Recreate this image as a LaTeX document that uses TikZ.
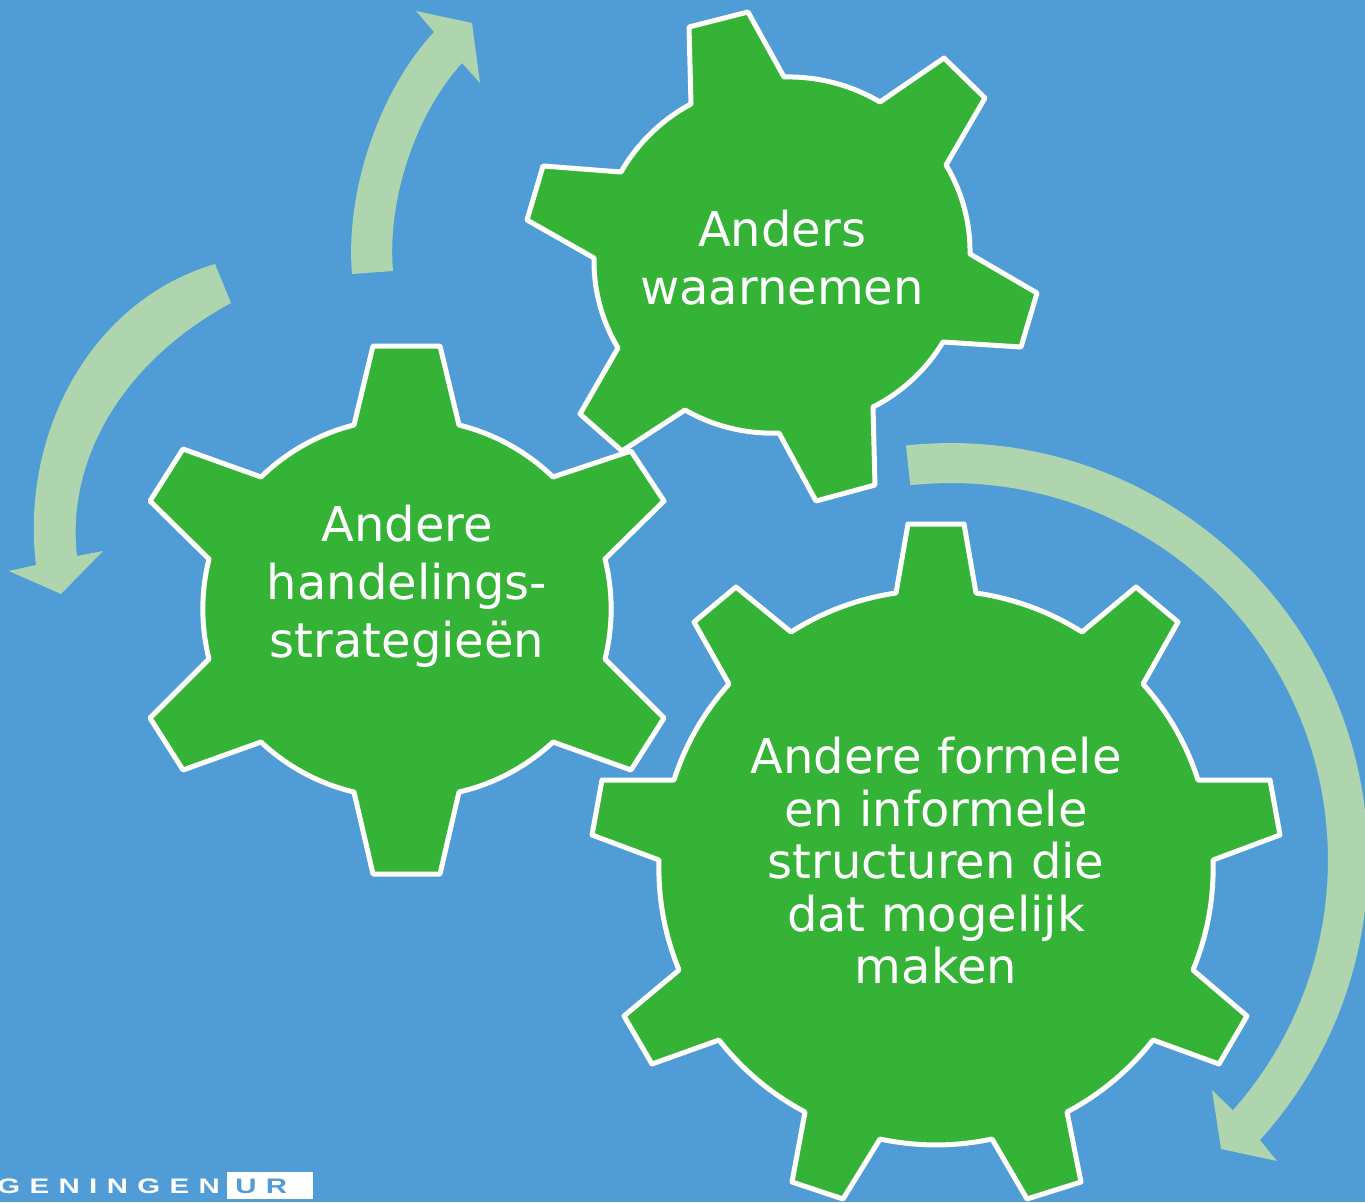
\documentclass[tikz,border=0pt]{standalone}
\usepackage{fontspec}
\setmainfont{DejaVu Sans}
\newfontfamily\logofont[LetterSpace=32]{Liberation Sans}
\newfontfamily\logofontb[LetterSpace=32]{Liberation Sans}
\definecolor{bgblue}{RGB}{79,156,215}
\definecolor{geargreen}{RGB}{52,179,54}
\definecolor{arrowgreen}{RGB}{175,213,175}
\tikzset{
  gear/.style={draw=white,line width=5pt,fill=geargreen,line join=round,looseness=0.87},
  sweep/.style={fill=arrowgreen,draw=none},
  gearlabel/.style={text=white,align=center,font=\fontsize{48}{58}\selectfont,inner sep=0pt},
  gearlabelb/.style={text=white,align=center,font=\fontsize{48}{52.5}\selectfont,inner sep=0pt},
  logotext/.style={anchor=base west,inner sep=0pt,xscale=1.4},
}
\begin{document}
\begin{tikzpicture}[x=1pt,y=-1pt]
\useasboundingbox (0,0) rectangle (1365,1202);
\clip (0,0) rectangle (1365,1202);
\fill[bgblue] (0,0) rectangle (1365,1202);
% arrows
\fill[sweep] (352,274) .. controls (345,190) and (380,90) .. (434,32) -- (416,11) -- (472,23) -- (480,83) -- (462,63) .. controls (415,115) and (387,200) .. (393,271) -- cycle;
\fill[sweep] (215,264) .. controls (92,300) and (20,432) .. (36,565) -- (9,571) -- (61,594) -- (103,551) -- (77,556) .. controls (66,460) and (122,362) .. (231,303) -- cycle;
\fill[sweep] plot[domain=-96.2:42.2,samples=70] ({951+417*cos(\x)},{860+417*sin(\x)}) -- (1277,1161) -- (1221,1149) -- (1212,1090) -- plot[domain=41.6:-96.2,samples=70] ({951+377*cos(\x)},{860+377*sin(\x)}) -- cycle;
% gear 1
\draw[gear] (689,27) -- (748,12) -- (784,77) to[bend left=16] (880,102) -- (944,58) -- (985,98) -- (946,165) to[bend left=16] (970,254) -- (1037,293) -- (1021,347) -- (943,342) to[bend left=16] (873,407) -- (875,485) -- (816,501) -- (779,433) to[bend left=16] (685,410) -- (622,451) -- (580,414) -- (618,348) to[bend left=16] (594,258) -- (527,220) -- (543,166) -- (621,172) to[bend left=16] (691,104) -- cycle;
% gear 2
\draw[gear] (373,346) -- (440,346) -- (459,425) to[bend left=15] (553,477) -- (631,451) -- (664,501) -- (605,559) to[bend left=14] (605,659) -- (664,718) -- (631,770) -- (553,742) to[bend left=15] (459,792) -- (440,874) -- (373,874) -- (354,792) to[bend left=15] (261,742) -- (183,770) -- (150,718) -- (209,659) to[bend left=14] (209,559) -- (150,501) -- (183,449) -- (261,477) to[bend left=15] (354,425) -- cycle;
% gear 3
\draw[gear] (908,524) -- (964,524) -- (976,593) to[bend left=12] (1082,632) -- (1136,587) -- (1178,622) -- (1143,684) to[bend left=12] (1198,780) -- (1270,780) -- (1280,835) -- (1213,860) to[bend left=12] (1193,970) -- (1247,1016) -- (1219,1064) -- (1153,1040) to[bend left=12] (1067,1112) -- (1081,1182) -- (1027,1199) -- (992,1139) to[bend left=12] (880,1139) -- (843,1199) -- (792,1182) -- (805,1112) to[bend left=12] (719,1040) -- (652,1064) -- (624,1016) -- (679,970) to[bend left=12] (659,860) -- (592,835) -- (602,780) -- (674,780) to[bend left=12] (729,684) -- (694,622) -- (736,587) -- (791,632) to[bend left=12] (896,593) -- cycle;
% labels
\node[gearlabel] (waarnemen) at (782,258) {Anders\\waarnemen};
\node[gearlabel] (handelen) at (407,586) {Andere\\handelings-\\strategieën};
\node[gearlabelb] (structuren) at (936,861) {Andere formele\\en informele\\structuren die\\dat mogelijk\\maken};
% logo
\node[logotext,text=white,font=\logofont\bfseries\fontsize{21}{21}\selectfont] (logo) at (-3,1193) {GENINGEN};
\fill[white] (227,1172) rectangle (313,1199);
\node[logotext,text=bgblue,font=\logofontb\bfseries\fontsize{21}{21}\selectfont] (ur) at (235,1193) {UR};
\end{tikzpicture}
\end{document}
